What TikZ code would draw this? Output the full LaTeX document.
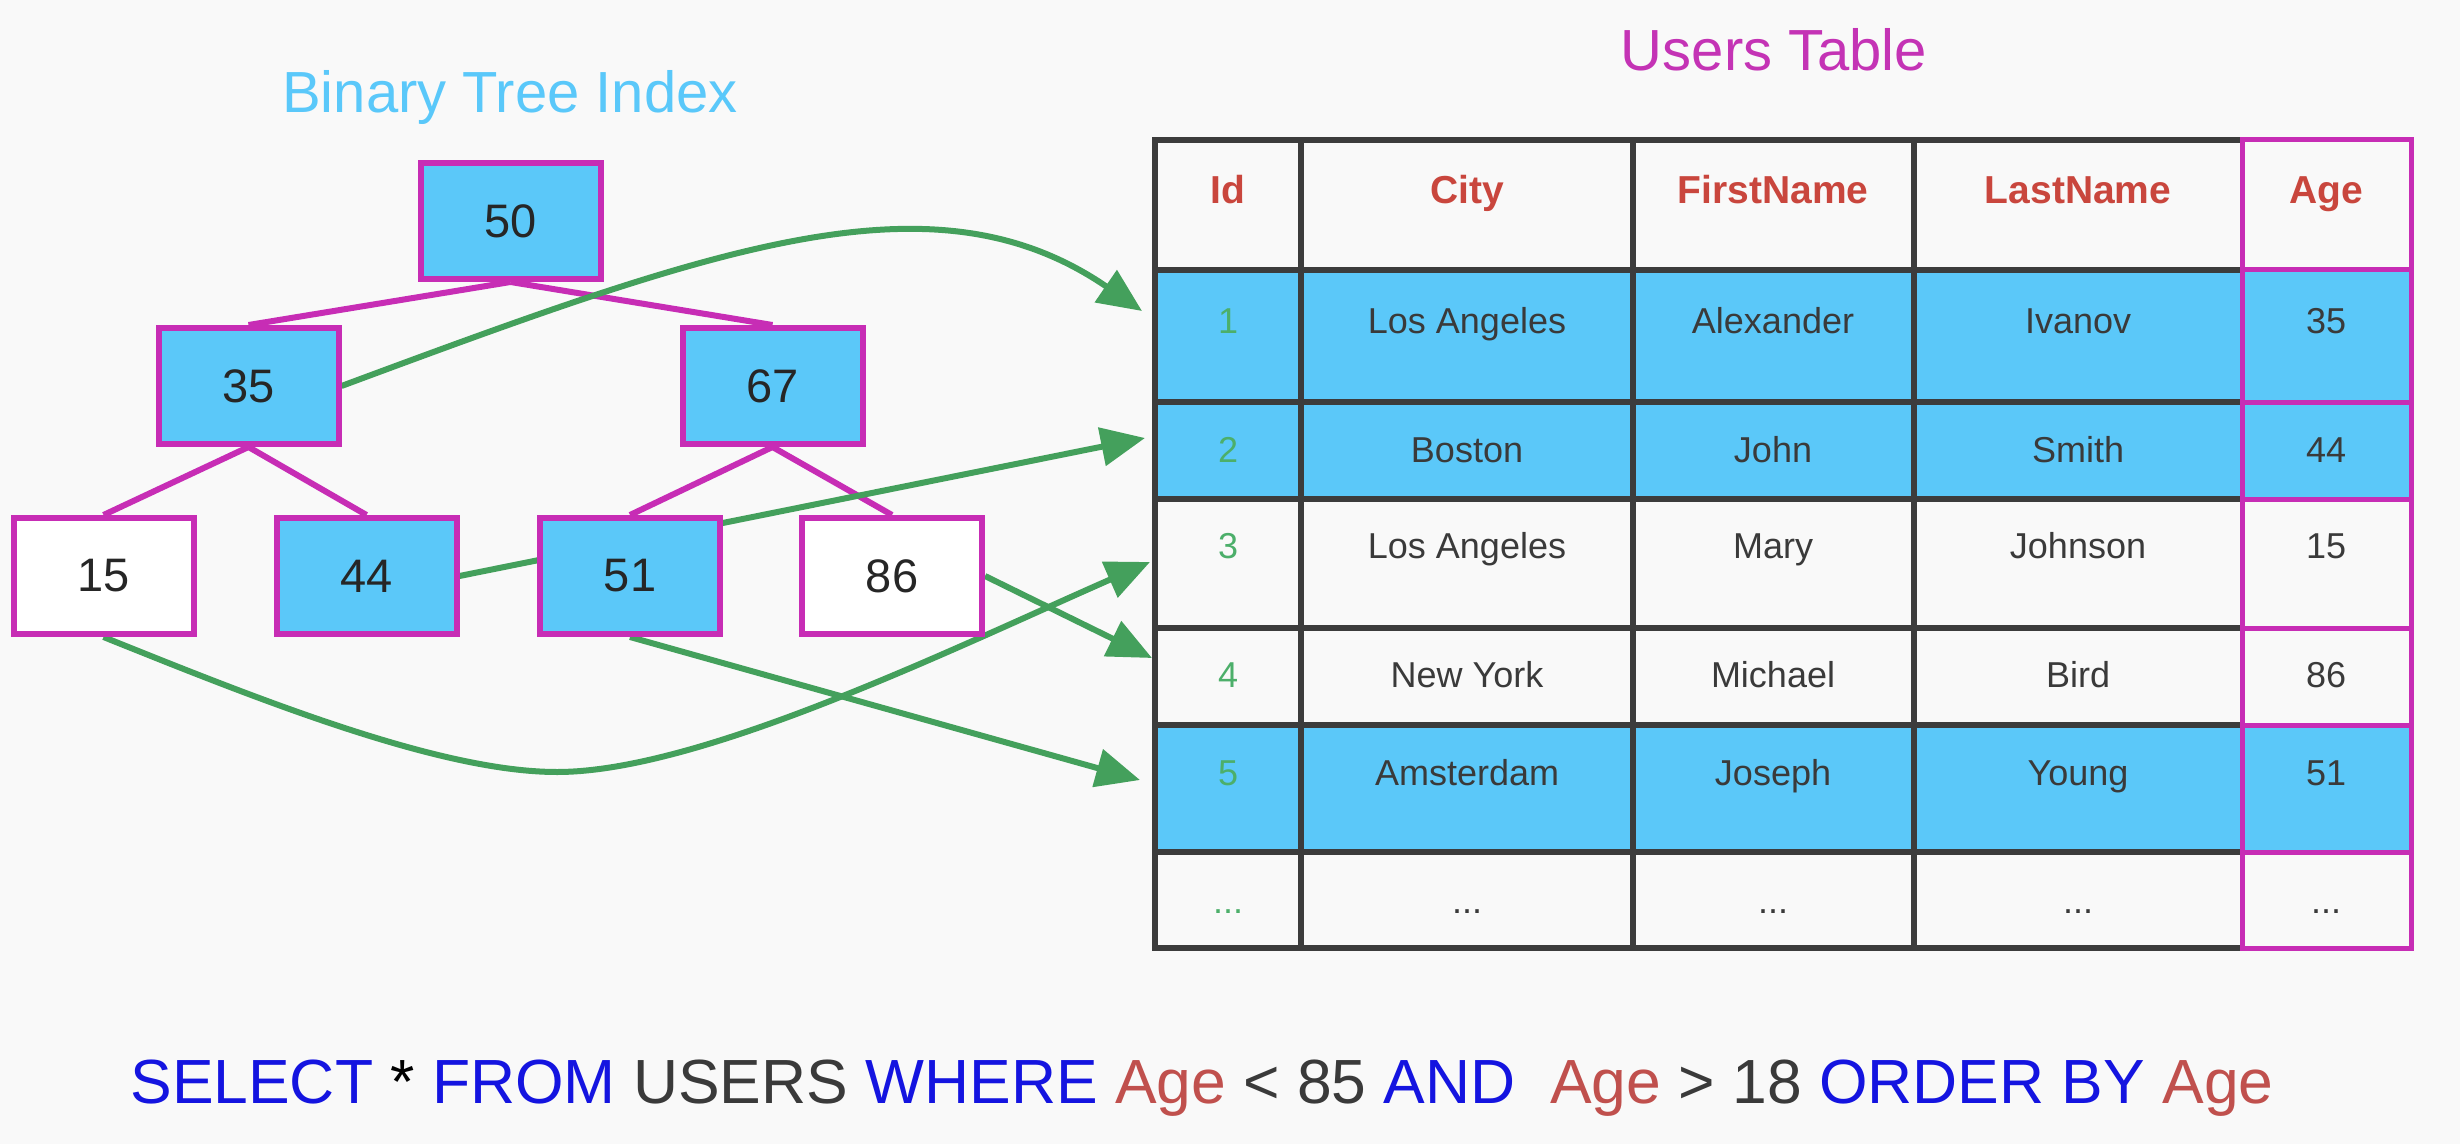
\documentclass[tikz,border=0pt]{standalone}
\usepackage{fontspec}
\setmainfont{Liberation Sans}
\usetikzlibrary{arrows.meta}
\definecolor{bgc}{HTML}{F9F9F9}
\definecolor{cyanfill}{HTML}{5BC8F9}
\definecolor{mag}{HTML}{C72DB5}
\definecolor{arrowg}{HTML}{44A05C}
\definecolor{idg}{HTML}{4CAF6A}
\definecolor{hdred}{HTML}{C9463D}
\definecolor{txt}{HTML}{3A3A3A}
\definecolor{gridc}{HTML}{3C3C3C}
\definecolor{sqlblue}{HTML}{1414E0}
\definecolor{sqlred}{HTML}{C0504D}
\definecolor{titleblue}{HTML}{5AC8FA}
\definecolor{titlemag}{HTML}{C433B5}
\pgfdeclarelayer{back}
\pgfdeclarelayer{links}
\pgfsetlayers{back,links,main}
\begin{document}
\begin{tikzpicture}[x=0.5pt,y=-0.5pt,
  tnode/.style={draw=mag, line width=3pt, minimum width=90pt, minimum height=58pt, inner sep=0pt, font=\fontsize{23.5}{26}\selectfont, text=black!85},
  hit/.style={tnode, fill=cyanfill},
  miss/.style={tnode, fill=white},
  edge/.style={draw=mag, line width=3pt},
  ptr/.style={draw=arrowg, line width=3pt, -{Triangle[length=22pt,width=19pt]}},
  cell/.style={anchor=base, inner sep=0pt, font=\fontsize{18}{20}\selectfont, text=txt},
  idcell/.style={cell, text=idg},
  head/.style={anchor=base, inner sep=0pt, font=\bfseries\fontsize{19.5}{22}\selectfont, text=hdred},
  gridline/.style={draw=gridc, line width=3pt, line cap=rect},
  agegrid/.style={draw=mag, line width=2.5pt, line cap=rect},
  title/.style={anchor=base, inner sep=0pt, font=\fontsize{29}{32}\selectfont},
]
\useasboundingbox (0,0) rectangle (2460,1144);
\begin{pgfonlayer}{back}
\fill[bgc] (0,0) rectangle (2460,1144);
\end{pgfonlayer}

% titles
\node[title, text=titleblue] (ttree) at (510,113) {Binary Tree Index};
\node[title, text=titlemag] (ttable) at (1774,71) {Users Table};

% tree nodes
\node[hit]  (n50) at (510.5,221) {50};
\node[hit]  (n35) at (248.5,386) {35};
\node[hit]  (n67) at (772.5,386) {67};
\node[miss] (n15) at (103.5,576) {15};
\node[hit]  (n44) at (366.5,576) {44};
\node[hit]  (n51) at (630,576) {51};
\node[miss] (n86) at (892,576) {86};

% arrow targets
\coordinate (t1) at (1142,311);
\coordinate (t2) at (1145,438);
\coordinate (t3) at (1150,562);
\coordinate (t4) at (1152,658);
\coordinate (t5) at (1140,780);

\begin{pgfonlayer}{links}
\draw[edge] (n50.south) -- (n35.north);
\draw[edge] (n50.south) -- (n67.north);
\draw[edge] (n35.south) -- (n15.north);
\draw[edge] (n35.south) -- (n44.north);
\draw[edge] (n67.south) -- (n51.north);
\draw[edge] (n67.south) -- (n86.north);
\draw[ptr] (n35.east) .. controls (721,245) and (935,169) .. (t1);
\draw[ptr] (n44.east) -- (t2);
\draw[ptr] (n15.south) .. controls (260,700) and (440,772) .. (557,772) .. controls (700,772) and (950,650) .. (t3);
\draw[ptr] (n86.east) -- (t4);
\draw[ptr] (n51.south) -- (t5);
\end{pgfonlayer}

% table fills
\fill[cyanfill] (1155,270) rectangle (2411,499);
\fill[cyanfill] (1155,725) rectangle (2411,852);

% table grid
\foreach \y in {140,270,402,499,628,725,852,948}
  \draw[gridline] (1155,\y) -- (2242,\y);
\foreach \x in {1155,1301,1633,1914}
  \draw[gridline] (\x,140) -- (\x,948);
\foreach \y in {140,270,402,499,628,725,852,948}
  \draw[agegrid] (2242,\y) -- (2411,\y);
\draw[agegrid] (2242,140) -- (2242,948);
\draw[agegrid] (2411,140) -- (2411,948);

% header
\node[head] (h1) at (1228,204) {Id};
\node[head] (h2) at (1467,204) {City};
\node[head] (h3) at (1773,204) {FirstName};
\node[head] (h4) at (2078,204) {LastName};
\node[head] (h5) at (2326,204) {Age};

% rows
\node[idcell] (r1a) at (1228,334) {1};
\node[cell] (r1b) at (1467,334) {Los Angeles};
\node[cell] (r1c) at (1773,334) {Alexander};
\node[cell] (r1d) at (2078,334) {Ivanov};
\node[cell] (r1e) at (2326,334) {35};

\node[idcell] (r2a) at (1228,462) {2};
\node[cell] (r2b) at (1467,462) {Boston};
\node[cell] (r2c) at (1773,462) {John};
\node[cell] (r2d) at (2078,462) {Smith};
\node[cell] (r2e) at (2326,462) {44};

\node[idcell] (r3a) at (1228,558) {3};
\node[cell] (r3b) at (1467,558) {Los Angeles};
\node[cell] (r3c) at (1773,558) {Mary};
\node[cell] (r3d) at (2078,558) {Johnson};
\node[cell] (r3e) at (2326,558) {15};

\node[idcell] (r4a) at (1228,687) {4};
\node[cell] (r4b) at (1467,687) {New York};
\node[cell] (r4c) at (1773,687) {Michael};
\node[cell] (r4d) at (2078,687) {Bird};
\node[cell] (r4e) at (2326,687) {86};

\node[idcell] (r5a) at (1228,785) {5};
\node[cell] (r5b) at (1467,785) {Amsterdam};
\node[cell] (r5c) at (1773,785) {Joseph};
\node[cell] (r5d) at (2078,785) {Young};
\node[cell] (r5e) at (2326,785) {51};

\node[idcell] (r6a) at (1228,913) {...};
\node[cell] (r6b) at (1467,913) {...};
\node[cell] (r6c) at (1773,913) {...};
\node[cell] (r6d) at (2078,913) {...};
\node[cell] (r6e) at (2326,913) {...};

% SQL query
\node[anchor=base west, inner sep=0pt, font=\fontsize{31.2}{34}\selectfont] (sql) at (130,1103)
  {\textcolor{sqlblue}{SELECT} \textcolor{black}{*} \textcolor{sqlblue}{FROM} \textcolor{txt}{USERS} \textcolor{sqlblue}{WHERE} \textcolor{sqlred}{Age} \textcolor{txt}{< 85} \textcolor{sqlblue}{AND}\ \ \textcolor{sqlred}{Age} \textcolor{txt}{> 18} \textcolor{sqlblue}{ORDER BY} \textcolor{sqlred}{Age}};
\end{tikzpicture}
\end{document}
